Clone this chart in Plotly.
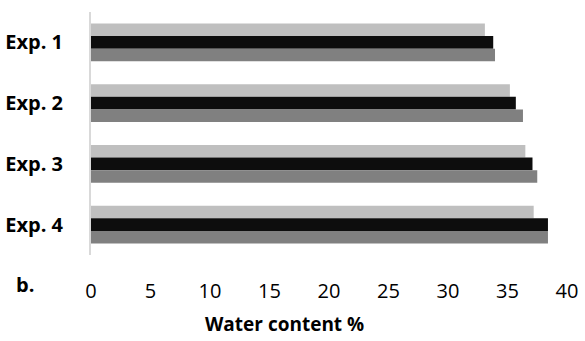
import plotly.graph_objects as go

categories = ["Exp. 1", "Exp. 2", "Exp. 3", "Exp. 4"]
series_light = [33.1, 35.2, 36.5, 37.2]
series_black = [33.8, 35.7, 37.1, 38.4]
series_dark = [33.95, 36.3, 37.5, 38.4]
x_ticks = [0, 5, 10, 15, 20, 25, 30, 35, 40]

fig = go.Figure()
for vals, col in [(series_light, "#BFBFBF"), (series_black, "#0D0D0D"), (series_dark, "#808080")]:
    fig.add_trace(go.Bar(y=categories, x=vals, orientation="h", marker=dict(color=col, line=dict(width=0)),
                         showlegend=False))

fig.update_layout(
    width=585, height=341,
    margin=dict(l=91, r=18, t=12, b=86),
    barmode="group", bargap=0.377, bargroupgap=0,
    plot_bgcolor="white", paper_bgcolor="white",
    font=dict(family="Open Sans", color="#000000"),
)
fig.update_xaxes(range=[0, 40], tickvals=x_ticks, showgrid=False, zeroline=False, showline=False,
                 ticks="", tickfont=dict(size=20, family="Open Sans"), ticklabelstandoff=22,
                 automargin=False)
fig.update_yaxes(autorange="reversed", showgrid=False, zeroline=False, showline=True,
                 linecolor="#D9D9D9", linewidth=2, ticks="",
                 tickfont=dict(size=20, family="Open Sans", weight="bold"), ticklabelstandoff=22,
                 automargin=False)
fig.add_annotation(text="<b>Water content %</b>", xref="paper", yref="paper",
                   x=(284.5 - 91) / 476, y=-(324 - 255) / 243, showarrow=False,
                   font=dict(size=19, family="Open Sans"), xanchor="center", yanchor="middle")
fig.add_annotation(text="<b>b.</b>", xref="paper", yref="paper",
                   x=(25 - 91) / 476, y=-(284 - 255) / 243, showarrow=False,
                   font=dict(size=20, family="Open Sans"), xanchor="center", yanchor="middle")
fig.write_html("out.html", config={"displayModeBar": False},
               post_script="document.body.style.margin='0';document.body.style.overflow='hidden';")
